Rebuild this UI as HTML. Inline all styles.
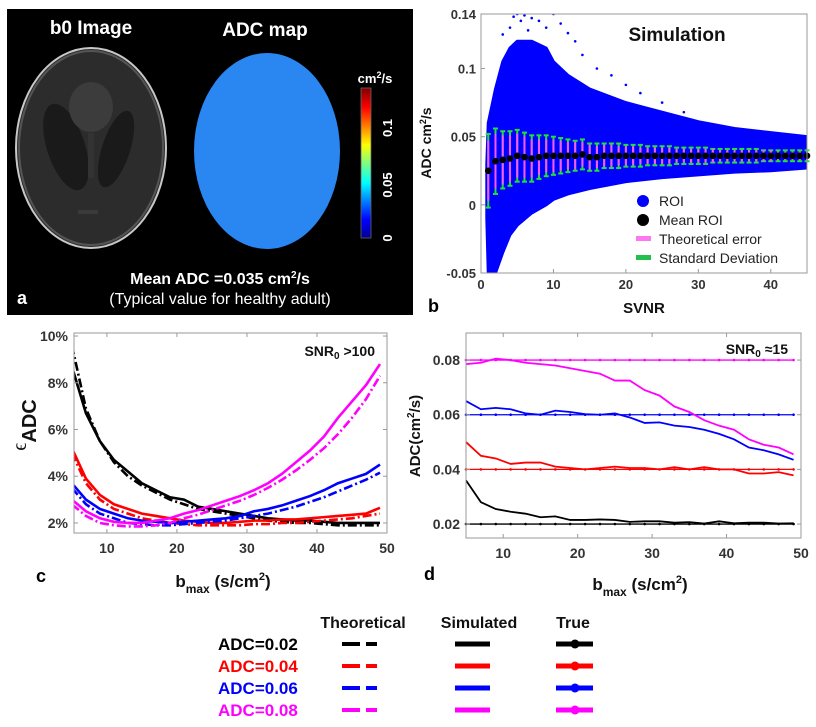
<!DOCTYPE html>
<html><head><meta charset="utf-8"><style>
html,body{margin:0;padding:0;background:#fff}
svg{display:block;font-family:"Liberation Sans",Arial,sans-serif}
</style></head><body>
<svg id="fig" width="816" height="727" viewBox="0 0 816 727" xmlns="http://www.w3.org/2000/svg">
<defs>
<linearGradient id="jet" x1="0" y1="1" x2="0" y2="0">
<stop offset="0" stop-color="#00008f"/><stop offset="0.12" stop-color="#0000ff"/><stop offset="0.37" stop-color="#00ffff"/><stop offset="0.5" stop-color="#7fff7f"/><stop offset="0.62" stop-color="#ffff00"/><stop offset="0.87" stop-color="#ff0000"/><stop offset="1" stop-color="#800000"/>
</linearGradient>
</defs>
<!-- Panel a -->
<g>
<rect x="7" y="9" width="406" height="306" fill="#000"/>
<text x="91" y="34" fill="#fff" font-size="19" font-weight="bold" text-anchor="middle">b0 Image</text>
<text x="265" y="36" fill="#fff" font-size="19" font-weight="bold" text-anchor="middle">ADC map</text>
<g>
<ellipse cx="91" cy="148" rx="75" ry="100" fill="#2c2c2c" stroke="#c8c8c8" stroke-width="2"/>
<ellipse cx="91" cy="148" rx="72" ry="97" fill="none" stroke="#555" stroke-width="2"/>
<ellipse cx="66" cy="147" rx="19" ry="45" fill="#1a1a1a" transform="rotate(-18 66 147)"/>
<ellipse cx="116" cy="149" rx="14" ry="40" fill="#1a1a1a" transform="rotate(18 116 149)"/>
<ellipse cx="91" cy="107" rx="22" ry="25" fill="#3c3c3c"/>
<rect x="88" y="133" width="6" height="45" fill="#333"/>
<rect x="78" y="210" width="20" height="4" fill="#3a3a3a"/>
</g>
<ellipse cx="267" cy="151" rx="73" ry="98" fill="#2a86f0"/>
<rect x="361" y="88" width="10" height="150" fill="url(#jet)" stroke="#666" stroke-width="0.8"/>
<text x="375" y="83" fill="#fff" font-size="13" font-weight="bold" text-anchor="middle">cm<tspan font-size="9" dy="-5">2</tspan><tspan dy="5">/s</tspan></text>
<text transform="translate(392,238) rotate(-90)" fill="#fff" font-size="13" font-weight="bold" text-anchor="middle">0</text>
<text transform="translate(392,185) rotate(-90)" fill="#fff" font-size="13" font-weight="bold" text-anchor="middle">0.05</text>
<text transform="translate(392,128) rotate(-90)" fill="#fff" font-size="13" font-weight="bold" text-anchor="middle">0.1</text>
<text x="220" y="284" fill="#fff" font-size="16" font-weight="bold" text-anchor="middle">Mean ADC =0.035 cm<tspan font-size="10" dy="-6">2</tspan><tspan dy="6">/s</tspan></text>
<text x="220" y="304" fill="#fff" font-size="16" text-anchor="middle">(Typical value for healthy adult)</text>
<text x="17" y="304" fill="#fff" font-size="18" font-weight="bold">a</text>
</g>
<g id="pb"></g>
<g id="pc"></g>
<g id="pd"></g>
<g id="leg"></g>
</svg>
<script>
const NS="http://www.w3.org/2000/svg";
// ---- Panel b data ----
const bEnvX=[0.8,1,2,3,4,5,7,9,10,12,15,20,25,30,35,40,45];
const bEnvUpper=[0.03,0.06,0.085,0.105,0.115,0.12,0.12,0.115,0.105,0.095,0.085,0.075,0.068,0.061,0.056,0.053,0.05];
const bEnvLower=[-0.01,-0.05,-0.05,-0.035,-0.022,-0.015,-0.006,0.0,0.004,0.008,0.012,0.017,0.02,0.022,0.024,0.025,0.027];
const bSvnr=[1,2,3,4,5,6,7,8,9,10,11,12,13,14,15,16,17,18,19,20,21,22,23,24,25,26,27,28,29,30,31,32,33,34,35,36,37,38,39,40,41,42,43,44,45];
const bMean=[0.025,0.032,0.033,0.034,0.036,0.035,0.034,0.035,0.036,0.036,0.036,0.036,0.036,0.037,0.035,0.035,0.036,0.036,0.036,0.036,0.036,0.036,0.036,0.036,0.036,0.036,0.036,0.036,0.036,0.036,0.036,0.036,0.036,0.036,0.036,0.036,0.036,0.036,0.036,0.036,0.036,0.036,0.036,0.036,0.036];
const bStd=[0.027,0.024,0.021,0.02,0.019,0.018,0.017,0.016,0.015,0.014,0.013,0.012,0.011,0.011,0.010,0.010,0.009,0.009,0.009,0.008,0.008,0.008,0.007,0.007,0.007,0.007,0.006,0.006,0.006,0.006,0.006,0.005,0.005,0.005,0.005,0.005,0.005,0.005,0.004,0.004,0.004,0.004,0.004,0.004,0.004];
const bTheo=[0.022,0.02,0.018,0.017,0.016,0.015,0.014,0.013,0.012,0.012,0.011,0.010,0.010,0.009,0.009,0.008,0.008,0.008,0.007,0.007,0.007,0.006,0.006,0.006,0.006,0.006,0.005,0.005,0.005,0.005,0.005,0.005,0.004,0.004,0.004,0.004,0.004,0.004,0.004,0.004,0.003,0.003,0.003,0.003,0.003];
const bOutX=[3,4,4.5,5,5.5,6,6.5,7,8,9,10,11,12,13,14,16,18,20,22,25,28];
const bOutY=[0.125,0.13,0.138,0.14,0.135,0.139,0.128,0.137,0.135,0.13,0.14,0.133,0.126,0.12,0.11,0.1,0.095,0.088,0.082,0.075,0.068];
const bXTicks=[0,10,20,30,40];
const bYTicks=[-0.05,0,0.05,0.1,0.14];
const bYTickLabels=["-0.05","0","0.05","0.1","0.14"];
// ---- Panel c data ----
const cB=[5,7,9,11,13,15,17,19,21,23,25,27,29,31,33,35,37,39,41,43,45,47,49];
const cSim02=[8.7,6.7,5.5,4.7,4.2,3.7,3.4,3.1,3.0,2.7,2.6,2.5,2.4,2.3,2.2,2.15,2.1,2.1,2.05,2.0,2.0,2.0,2.0];
const cTheo02=[9.6,6.9,5.5,4.6,4.0,3.6,3.3,3.0,2.8,2.6,2.5,2.4,2.3,2.2,2.1,2.05,2.0,2.0,1.95,1.9,1.9,1.9,1.9];
const cSim04=[5.2,3.9,3.2,2.8,2.6,2.4,2.3,2.2,2.1,2.05,2.0,2.0,2.05,2.1,2.1,2.15,2.15,2.2,2.25,2.3,2.35,2.4,2.65];
const cTheo04=[5.0,3.7,3.0,2.6,2.4,2.2,2.1,2.0,1.95,1.9,1.9,1.9,1.9,1.95,1.95,2.0,2.0,2.05,2.1,2.15,2.2,2.3,2.4];
const cSim06=[3.7,3.0,2.6,2.4,2.2,2.1,2.05,2.0,2.05,2.1,2.15,2.2,2.3,2.5,2.6,2.75,2.95,3.15,3.4,3.7,3.9,4.1,4.5];
const cTheo06=[3.5,2.8,2.4,2.2,2.0,1.95,1.9,1.9,1.95,2.0,2.05,2.1,2.2,2.3,2.4,2.55,2.7,2.9,3.1,3.35,3.6,3.85,4.15];
const cSim08=[3.0,2.5,2.2,2.05,2.0,2.0,2.1,2.2,2.4,2.55,2.75,2.95,3.15,3.4,3.7,4.1,4.6,5.1,5.7,6.5,7.2,7.9,8.8];
const cTheo08=[2.8,2.3,2.0,1.9,1.85,1.85,1.9,2.0,2.2,2.35,2.55,2.75,2.95,3.2,3.5,3.85,4.25,4.7,5.2,5.8,6.5,7.3,8.3];
const cXTicks=[10,20,30,40,50];
const cYTicks=[2,4,6,8,10];
// ---- Panel d data ----
const dB=[5,7,9,11,13,15,17,19,21,23,25,27,29,31,33,35,37,39,41,43,45,47,49];
const dSim02=[0.036,0.028,0.0255,0.0245,0.0238,0.0225,0.0228,0.0215,0.0215,0.0217,0.0215,0.0208,0.021,0.021,0.0205,0.0207,0.0202,0.021,0.0203,0.0205,0.0205,0.0202,0.0203];
const dSim04=[0.050,0.045,0.044,0.042,0.0425,0.0425,0.041,0.0405,0.040,0.0405,0.041,0.0405,0.0405,0.040,0.0408,0.040,0.0408,0.040,0.040,0.0385,0.0385,0.039,0.0378];
const dSim06=[0.065,0.062,0.0625,0.062,0.0605,0.060,0.0615,0.061,0.0602,0.060,0.0605,0.059,0.057,0.0572,0.056,0.0555,0.0545,0.053,0.051,0.048,0.047,0.0455,0.0435];
const dSim08=[0.0785,0.079,0.0805,0.080,0.079,0.0785,0.078,0.077,0.076,0.075,0.0725,0.0725,0.069,0.067,0.063,0.061,0.058,0.056,0.0545,0.051,0.049,0.048,0.0455];
const dTrue=[0.02,0.04,0.06,0.08];
const dXTicks=[10,20,30,40,50];
const dYTicks=[0.02,0.04,0.06,0.08];
const dYTickLabels=["0.02","0.04","0.06","0.08"];
// ---- legend data ----
const legLabels=["ADC=0.02","ADC=0.04","ADC=0.06","ADC=0.08"];
const seriesColors=["#000","#ff0000","#0000ff","#ff00ff"];

function el(parent,tag,attrs,text){const e=document.createElementNS(NS,tag);for(const k in attrs)e.setAttribute(k,attrs[k]);if(text!==undefined)e.textContent=text;parent.appendChild(e);return e;}
function lin(d0,d1,r0,r1){return v=>r0+(v-d0)*(r1-r0)/(d1-d0);}

// ===== Panel b =====
(function(){
const g=document.getElementById('pb');
const L=481,R=807,T=14,B=273;
const x=lin(0,45,L,R), y=lin(-0.05,0.14,B,T);
let up=bEnvX.map((v,i)=>x(v)+','+y(bEnvUpper[i]));
let lo=bEnvX.map((v,i)=>x(v)+','+y(bEnvLower[i])).reverse();
const cp=el(g,'clipPath',{id:'clipb'});el(cp,'rect',{x:L,y:T,width:R-L,height:B-T});
const cloud=el(g,'polygon',{points:up.concat(lo).join(' '),fill:'#0000ff','stroke':'#0000ff','stroke-width':3,'stroke-linejoin':'round','clip-path':'url(#clipb)'});


bOutX.forEach((v,i)=>{
  const d=el(g,'circle',{cx:x(v),cy:y(bOutY[i]),r:1.3,fill:'#0000ff','clip-path':'url(#clipb)'});
  
  
});
bSvnr.forEach((s,i)=>{
  const xs=x(s);
  const gb=el(g,'g',{});
  
  
  el(gb,'line',{x1:xs,x2:xs,y1:y(bMean[i]-bStd[i]),y2:y(bMean[i]+bStd[i]),stroke:'#22e03a','stroke-width':2});
  el(gb,'line',{x1:xs-2.5,x2:xs+2.5,y1:y(bMean[i]-bStd[i]),y2:y(bMean[i]-bStd[i]),stroke:'#22e03a','stroke-width':2});
  el(gb,'line',{x1:xs-2.5,x2:xs+2.5,y1:y(bMean[i]+bStd[i]),y2:y(bMean[i]+bStd[i]),stroke:'#22e03a','stroke-width':2});
  const gt=el(g,'line',{x1:xs,x2:xs,y1:y(bMean[i]-bTheo[i]),y2:y(bMean[i]+bTheo[i]),stroke:'#ff55ff','stroke-width':2});
  
  
});
bSvnr.forEach((s,i)=>{
  const c=el(g,'circle',{cx:x(s),cy:y(bMean[i]),r:3.3,fill:'#000'});
  
  
});
el(g,'rect',{x:L,y:T,width:R-L,height:B-T,fill:'none',stroke:'#999','stroke-width':1});
bXTicks.forEach(t=>{el(g,'line',{x1:x(t),x2:x(t),y1:B,y2:B-4,stroke:'#999'});
  const tx=el(g,'text',{x:x(t),y:B+16,'font-size':13,'font-weight':'bold','text-anchor':'middle',fill:'#333'},String(t));
  
  });
bYTicks.forEach((t,i)=>{el(g,'line',{x1:L,x2:L+4,y1:y(t),y2:y(t),stroke:'#999'});
  const tx=el(g,'text',{x:L-5,y:y(t)+5,'font-size':13,'font-weight':'bold','text-anchor':'end',fill:'#333'},bYTickLabels[i]);
  
  });
const lg=el(g,'g',{});


el(lg,'rect',{x:633,y:190,width:172,height:79,fill:'#fff'});
el(lg,'circle',{cx:643,cy:201,r:6,fill:'#0000ff'});
el(lg,'circle',{cx:643,cy:220,r:6,fill:'#000'});
el(lg,'rect',{x:636,y:236,width:15,height:5,fill:'#ff77ee'});
el(lg,'rect',{x:636,y:255,width:15,height:5,fill:'#22c050'});
["ROI","Mean ROI","Theoretical error","Standard Deviation"].forEach((t,i)=>{
  const tx=el(lg,'text',{x:659,y:206+i*19,'font-size':14,fill:'#222'},t);
  
  });
const st=el(g,'text',{x:677,y:41,'font-size':19,'font-weight':'bold','text-anchor':'middle',fill:'#111'},'Simulation');


const yl=el(g,'text',{transform:'translate(431,143) rotate(-90)','font-size':14,'font-weight':'bold','text-anchor':'middle',fill:'#111'});
yl.innerHTML='ADC cm<tspan font-size="9" dy="-5">2</tspan><tspan dy="5">/s</tspan>';


const xl=el(g,'text',{x:644,y:313,'font-size':15,'font-weight':'bold','text-anchor':'middle',fill:'#111'},'SVNR');


const pl=el(g,'text',{x:428,y:312,'font-size':18,'font-weight':'bold',fill:'#000'},'b');


})();

// ===== Panel c =====
(function(){
const g=document.getElementById('pc');
const L=74,R=387,T=333,B=533;
const x=lin(5.3,50,L,R), y=lin(1.57,10.13,B,T);
const cp=el(g,'clipPath',{id:'clipc'});el(cp,'rect',{x:L,y:T,width:R-L,height:B-T});
const sims=[cSim02,cSim04,cSim06,cSim08], theos=[cTheo02,cTheo04,cTheo06,cTheo08];
sims.forEach((s,k)=>{
  const pt=cB.map((b,i)=>x(b)+','+y(theos[k][i])).join(' ');
  const p=el(g,'polyline',{points:pt,fill:'none',stroke:seriesColors[k],'stroke-width':2.6,'stroke-dasharray':'9,3,2,3','clip-path':'url(#clipc)'});
  
  
  const ps=cB.map((b,i)=>x(b)+','+y(s[i])).join(' ');
  const q=el(g,'polyline',{points:ps,fill:'none',stroke:seriesColors[k],'stroke-width':2.6,'clip-path':'url(#clipc)'});
  
  
});
el(g,'rect',{x:L,y:T,width:R-L,height:B-T,fill:'none',stroke:'#999'});
cXTicks.forEach(t=>{el(g,'line',{x1:x(t),x2:x(t),y1:B,y2:B-4,stroke:'#999'});el(g,'line',{x1:x(t),x2:x(t),y1:T,y2:T+4,stroke:'#999'});
  const tx=el(g,'text',{x:x(t),y:B+20,'font-size':14,'font-weight':'bold','text-anchor':'middle',fill:'#333'},String(t));
  
  });
cYTicks.forEach(t=>{el(g,'line',{x1:L,x2:L+4,y1:y(t),y2:y(t),stroke:'#999'});el(g,'line',{x1:R,x2:R-4,y1:y(t),y2:y(t),stroke:'#999'});
  const tx=el(g,'text',{x:L-6,y:y(t)+5,'font-size':14,'font-weight':'bold','text-anchor':'end',fill:'#333'},t+'%');
  
  });
const s=el(g,'text',{x:375,y:356,'font-size':14,'font-weight':'bold','text-anchor':'end',fill:'#111'});
s.innerHTML='SNR<tspan font-size="10" dy="3">0</tspan><tspan dy="-3"> &gt;100</tspan>';


const yl=el(g,'text',{transform:'translate(36,425) rotate(-90)','font-size':20,'font-weight':'bold','text-anchor':'middle',fill:'#111'});
yl.innerHTML='<tspan font-weight="normal" font-family="Liberation Serif" dy="-10">ϵ</tspan><tspan dy="10">ADC</tspan>';


const xl=el(g,'text',{x:223,y:587,'font-size':17,'font-weight':'bold','text-anchor':'middle',fill:'#111'});
xl.innerHTML='b<tspan font-size="12" dy="6">max</tspan><tspan dy="-6"> (s/cm</tspan><tspan font-size="11" dy="-7">2</tspan><tspan dy="7">)</tspan>';


const pl=el(g,'text',{x:36,y:582,'font-size':18,'font-weight':'bold',fill:'#000'},'c');


})();

// ===== Panel d =====
(function(){
const g=document.getElementById('pd');
const L=466,R=801,T=333,B=538;
const x=lin(5,50,L,R), y=lin(0.0149,0.0899,B,T);
dTrue.forEach((v,k)=>{
  const ln=el(g,'line',{x1:x(5),x2:x(49),y1:y(v),y2:y(v),stroke:seriesColors[k],'stroke-width':1.3});
  
  
  dB.forEach(b=>{el(g,'circle',{cx:x(b),cy:y(v),r:1.3,fill:seriesColors[k]});});
});
[dSim02,dSim04,dSim06,dSim08].forEach((s,k)=>{
  const pts=dB.map((b,i)=>x(b)+','+y(s[i])).join(' ');
  const p=el(g,'polyline',{points:pts,fill:'none',stroke:seriesColors[k],'stroke-width':1.8});
  
  
});
el(g,'rect',{x:L,y:T,width:R-L,height:B-T,fill:'none',stroke:'#999'});
dXTicks.forEach(t=>{el(g,'line',{x1:x(t),x2:x(t),y1:B,y2:B-4,stroke:'#999'});el(g,'line',{x1:x(t),x2:x(t),y1:T,y2:T+4,stroke:'#999'});
  const tx=el(g,'text',{x:x(t),y:B+20,'font-size':14,'font-weight':'bold','text-anchor':'middle',fill:'#333'},String(t));
  
  });
dYTicks.forEach((t,i)=>{el(g,'line',{x1:L,x2:L+4,y1:y(t),y2:y(t),stroke:'#999'});el(g,'line',{x1:R,x2:R-4,y1:y(t),y2:y(t),stroke:'#999'});
  const tx=el(g,'text',{x:L-6,y:y(t)+5,'font-size':14,'font-weight':'bold','text-anchor':'end',fill:'#333'},dYTickLabels[i]);
  
  });
const s=el(g,'text',{x:788,y:354,'font-size':14,'font-weight':'bold','text-anchor':'end',fill:'#111'});
s.innerHTML='SNR<tspan font-size="10" dy="3">0</tspan><tspan dy="-3"> ≈15</tspan>';


const yl=el(g,'text',{transform:'translate(420,436) rotate(-90)','font-size':15,'font-weight':'bold','text-anchor':'middle',fill:'#111'});
yl.innerHTML='ADC(cm<tspan font-size="10" dy="-6">2</tspan><tspan dy="6">/s)</tspan>';


const xl=el(g,'text',{x:640,y:590,'font-size':17,'font-weight':'bold','text-anchor':'middle',fill:'#111'});
xl.innerHTML='b<tspan font-size="12" dy="6">max</tspan><tspan dy="-6"> (s/cm</tspan><tspan font-size="11" dy="-7">2</tspan><tspan dy="7">)</tspan>';


const pl=el(g,'text',{x:424,y:580,'font-size':18,'font-weight':'bold',fill:'#000'},'d');


})();

// ===== Legend table =====
(function(){
const g=document.getElementById('leg');
[["Theoretical",363],["Simulated",479],["True",573]].forEach(h=>{
  const t=el(g,'text',{x:h[1],y:628,'font-size':16,'font-weight':'bold','text-anchor':'middle',fill:'#111'},h[0]);
  
  });
legLabels.forEach((lab,i)=>{
  const yy=644+i*22,c=seriesColors[i];
  const t=el(g,'text',{x:218,y:yy+6,'font-size':17,'font-weight':'bold',fill:c},lab);
  
  
  el(g,'line',{x1:342,x2:360,y1:yy,y2:yy,stroke:c,'stroke-width':4});
  el(g,'line',{x1:366,x2:377,y1:yy,y2:yy,stroke:c,'stroke-width':4});
  el(g,'line',{x1:455,x2:490,y1:yy,y2:yy,stroke:c,'stroke-width':5});
  el(g,'line',{x1:556,x2:593,y1:yy,y2:yy,stroke:c,'stroke-width':5});
  el(g,'circle',{cx:575,cy:yy,r:4.5,fill:c});
});
})();
</script>
</body></html>
